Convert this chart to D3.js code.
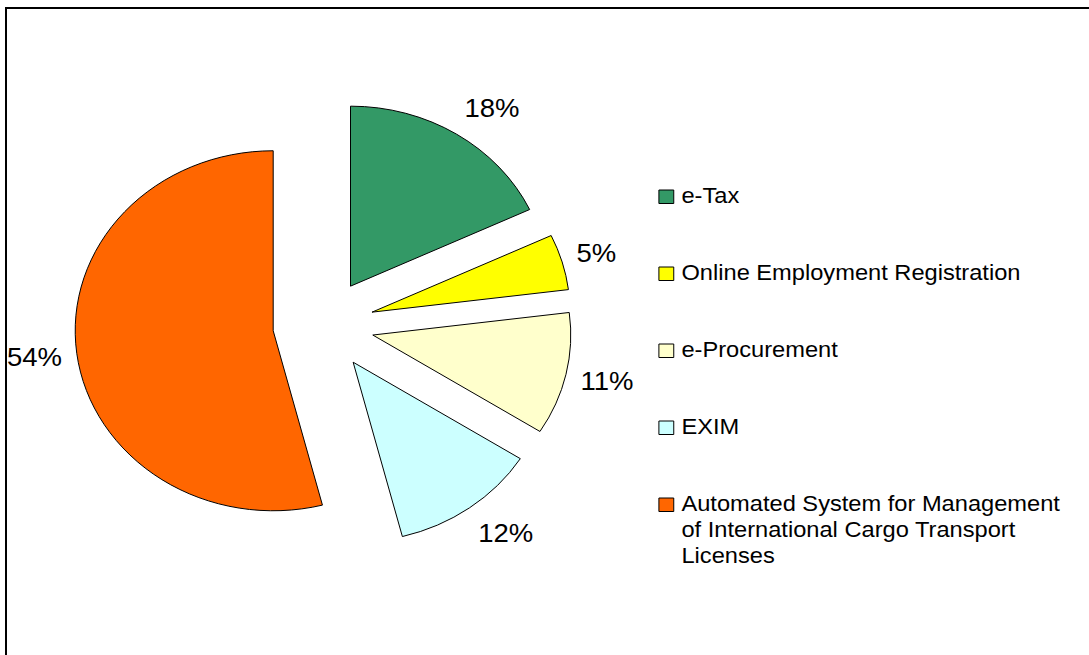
<!DOCTYPE html>
<html>
<head>
<meta charset="utf-8">
<script src="https://cdn.jsdelivr.net/npm/d3@7"></script>
<style>
  html, body { margin: 0; padding: 0; background: #fff; }
  svg { display: block; }
  text { font-family: "Liberation Sans", Arial, sans-serif; fill: #000; }
</style>
</head>
<body>
<div id="chart"></div>
<script>
// Share of usage by e-government service
const categories = [
  "e-Tax",
  "Online Employment Registration",
  "e-Procurement",
  "EXIM",
  "Automated System for Management of International Cargo Transport Licenses"
];
const shares = [18, 5, 11, 12, 54];
const sliceColors = ["#339966", "#FFFF00", "#FFFFCC", "#CCFFFF", "#FF6600"];

const W = 1089, H = 655;
const sx = 1.1;               // horizontal stretch of the whole drawing
const cx = 294, cy = 325;     // pie centre (unstretched units)
const radius = 180;
const explode = 46;           // every slice pulled out along its bisector
const labelDx = 193.5, labelDy = 202;
const pctSize = 25, legendSize = 21.5;

const svg = d3.select("#chart").append("svg")
  .attr("width", W).attr("height", H);

// frame
svg.append("rect")
  .attr("x", 6).attr("y", 8)
  .attr("width", W + 20).attr("height", H + 20)
  .attr("fill", "none").attr("stroke", "#000").attr("stroke-width", 2);

const g = svg.append("g").attr("transform", `scale(${sx},1)`);

const pie = d3.pie().sort(null).value(d => d).startAngle(0).endAngle(2 * Math.PI);
const arcs = pie(shares);
const arc = d3.arc().innerRadius(0).outerRadius(radius);

const mid = d => (d.startAngle + d.endAngle) / 2;
const apex = d => [cx + Math.sin(mid(d)) * explode, cy - Math.cos(mid(d)) * explode];

g.selectAll("path.slice")
  .data(arcs)
  .join("path")
  .attr("class", "slice")
  .attr("transform", d => `translate(${apex(d)[0]},${apex(d)[1]})`)
  .attr("d", arc)
  .attr("fill", (d, i) => sliceColors[i])
  .attr("stroke", "#000")
  .attr("stroke-width", 1)
  .attr("vector-effect", "non-scaling-stroke");

// percentage labels, placed outside each slice
const total = d3.sum(shares);
const labels = g.selectAll("text.pct")
  .data(arcs)
  .join("text")
  .attr("class", "pct")
  .attr("text-anchor", "middle")
  .attr("font-size", pctSize)
  .text(d => Math.round(d.data / total * 100) + "%");

labels.each(function (d) {
  const w = this.getComputedTextLength();
  const h = 18;
  const a = mid(d), s = Math.sin(a), c = Math.cos(a);
  const [ax, ay] = apex(d);
  const x = ax + labelDx * s + (w / 2) * Math.sign(s);
  const y = ay - labelDy * c - (h / 2) * c;
  d3.select(this).attr("x", x).attr("y", y + pctSize * 0.36);
});

// legend
const legX = 599, legY0 = 190, legStep = 77, keySize = 13.5, lineH = 26, maxW = 355;
const leg = g.append("g");
categories.forEach((name, i) => {
  const y = legY0 + i * legStep;
  leg.append("rect")
    .attr("x", legX).attr("y", y)
    .attr("width", keySize).attr("height", keySize)
    .attr("fill", sliceColors[i])
    .attr("stroke", "#000").attr("stroke-width", 1)
    .attr("vector-effect", "non-scaling-stroke");
  const t = leg.append("text")
    .attr("x", legX + 20.5).attr("y", y + keySize)
    .attr("font-size", legendSize);
  // wrap long names onto several lines
  const words = name.split(" ");
  let line = [], tspan = t.append("tspan").attr("x", legX + 20.5).attr("dy", 0);
  words.forEach(wd => {
    line.push(wd);
    tspan.text(line.join(" "));
    if (tspan.node().getComputedTextLength() > maxW && line.length > 1) {
      line.pop();
      tspan.text(line.join(" "));
      line = [wd];
      tspan = t.append("tspan").attr("x", legX + 20.5).attr("dy", lineH).text(wd);
    }
  });
});
</script>
</body>
</html>
